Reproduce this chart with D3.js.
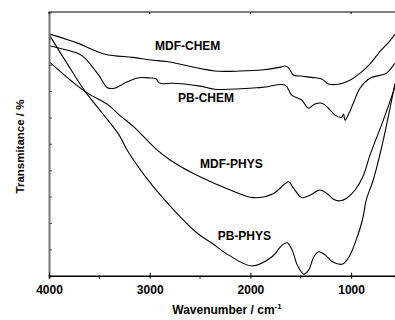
<!DOCTYPE html>
<html>
<head>
<meta charset="utf-8">
<script src="https://cdn.jsdelivr.net/npm/d3@7"></script>
<style>
  body { margin: 0; background: #fff; }
  text { font-family: "Liberation Sans", Arial, sans-serif; font-weight: bold; }
</style>
</head>
<body>
<div id="vis"></div>
<script>
const FRAME_WIDTH = 395;
const FRAME_HEIGHT = 320;
const MARGINS = {left: 49, right: 0, top: 12, bottom: 44.3};

// wavenumber (cm-1) and transmittance (%)
const MDF_CHEM_WN = [4000, 3824, 3709, 3444, 3166, 2990, 2831, 2500, 2352, 2100, 1888, 1700, 1656, 1620, 1574, 1500, 1391, 1292, 1226, 1127, 1028, 895, 812, 763, 700, 634, 564];
const MDF_CHEM_T  = [91.7, 89.6, 88.1, 84.0, 82.8, 81.8, 81.2, 78.6, 77.6, 77.6, 78.0, 79.1, 79.5, 78.8, 76.1, 75.7, 75.2, 74.6, 72.7, 72.6, 73.8, 77.3, 80.3, 82.6, 85.6, 88.2, 91.5];

const PB_CHEM_WN = [4000, 3824, 3700, 3640, 3500, 3420, 3350, 3250, 3120, 3000, 2935, 2910, 2870, 2780, 2500, 2352, 1888, 1656, 1590, 1490, 1425, 1360, 1290, 1225, 1160, 1095, 1075, 1060, 1028, 978, 912, 812, 700, 647, 564];
const PB_CHEM_T  = [87.2, 85.6, 84.1, 82.4, 75.7, 71.3, 71.1, 73.0, 75.0, 75.0, 74.6, 73.2, 72.8, 73.0, 71.9, 70.7, 71.4, 72.3, 68.5, 66.6, 63.5, 65.1, 65.4, 63.5, 60.9, 60.1, 61.3, 59.0, 61.0, 65.4, 71.1, 74.9, 76.1, 76.8, 80.6];

const MDF_PHYS_WN = [4000, 3640, 3410, 3300, 3160, 2947, 2798, 2500, 2200, 1970, 1770, 1670, 1620, 1570, 1490, 1405, 1310, 1240, 1175, 1110, 1045, 960, 880, 812, 680, 564];
const MDF_PHYS_T  = [81.2, 69.8, 64.7, 60.9, 56.5, 48.4, 43.9, 37.5, 32.5, 29.6, 31.2, 34.4, 35.6, 33.1, 29.6, 30.6, 32.5, 31.2, 29.0, 28.4, 29.4, 32.5, 37.8, 45.8, 59.0, 71.6];

const PB_PHYS_WN = [4000, 3824, 3640, 3470, 3305, 3225, 2990, 2760, 2530, 2380, 2215, 1985, 1785, 1685, 1635, 1585, 1535, 1470, 1420, 1370, 1320, 1255, 1185, 1085, 1020, 950, 885, 850, 780, 680, 564];
const PB_PHYS_T  = [91.5, 80.7, 69.8, 61.6, 53.4, 47.7, 35.0, 24.9, 16.2, 12.3, 7.8, 3.7, 7.2, 11.6, 12.5, 9.7, 4.1, 0.6, 2.2, 7.2, 9.1, 7.8, 5.3, 4.4, 7.2, 13.5, 21.5, 28.7, 36.3, 51.5, 73.0];

const SERIES_NAMES = ['MDF-CHEM', 'PB-CHEM', 'MDF-PHYS', 'PB-PHYS'];
const SERIES_WN = [MDF_CHEM_WN, PB_CHEM_WN, MDF_PHYS_WN, PB_PHYS_WN];
const SERIES_T = [MDF_CHEM_T, PB_CHEM_T, MDF_PHYS_T, PB_PHYS_T];

// where each curve name sits (wavenumber, transmittance)
const LABEL_WN = [2947, 2719, 2500, 2325];
const LABEL_T = [85.6, 66.0, 40.7, 13.5];

const X_MAJOR = [4000, 3000, 2000, 1000];
const X_MINOR = [3500, 2500, 1500, 500];
const Y_TICKS = d3.range(0, 101, 10);

const VIS_WIDTH = FRAME_WIDTH - MARGINS.left - MARGINS.right;
const VIS_HEIGHT = FRAME_HEIGHT - MARGINS.top - MARGINS.bottom;

const svg = d3.select('#vis')
  .append('svg')
    .attr('width', FRAME_WIDTH)
    .attr('height', FRAME_HEIGHT);

const X_SCALE = d3.scaleLinear()
  .domain([4000, 564])
  .range([MARGINS.left, MARGINS.left + VIS_WIDTH]);

const Y_SCALE = d3.scaleLinear()
  .domain([0, 100])
  .range([MARGINS.top + VIS_HEIGHT, MARGINS.top]);

// top frame line
svg.append('line')
  .attr('x1', X_SCALE(4000)).attr('x2', X_SCALE(564))
  .attr('y1', Y_SCALE(100)).attr('y2', Y_SCALE(100))
  .attr('stroke', '#000').attr('stroke-width', 1);

// curves
const line = d3.line()
  .x(d => X_SCALE(d[0]))
  .y(d => Y_SCALE(d[1]))
  .curve(d3.curveCatmullRom.alpha(0.5));

SERIES_WN.forEach((wn, i) => {
  const pts = wn.map((w, j) => [w, SERIES_T[i][j]]);
  svg.append('path')
    .datum(pts)
    .attr('d', line)
    .attr('fill', 'none')
    .attr('stroke', '#000')
    .attr('stroke-width', 1.1);
});

// curve names
svg.selectAll('.lbl')
  .data(SERIES_NAMES)
  .join('text')
    .attr('class', 'lbl')
    .attr('x', (d, i) => X_SCALE(LABEL_WN[i]))
    .attr('y', (d, i) => Y_SCALE(LABEL_T[i]))
    .attr('font-size', '12px')
    .text(d => d);

// left axis, ticks inside, no labels
const yAxis = svg.append('g')
  .attr('transform', 'translate(' + MARGINS.left + ',0)')
  .call(d3.axisLeft(Y_SCALE).tickValues(Y_TICKS).tickSize(-3).tickFormat(''));
yAxis.select('.domain').attr('stroke', '#777').attr('stroke-width', 2);
yAxis.selectAll('.tick line').attr('stroke', '#555');

// bottom axis: major ticks cross the line, minor ticks point out
const xBase = MARGINS.top + VIS_HEIGHT;
const xAxis = svg.append('g')
  .attr('transform', 'translate(0,' + xBase + ')')
  .call(d3.axisBottom(X_SCALE).tickValues(X_MAJOR).tickFormat(d3.format('d')).tickSize(3).tickPadding(7));
xAxis.select('.domain').attr('stroke-width', 1.5);
xAxis.selectAll('.tick line').attr('y1', -3);
xAxis.selectAll('.tick text')
  .attr('font-size', '12px')
  .attr('font-family', '"Liberation Sans", Arial, sans-serif')
  .attr('font-weight', 'bold')
  .attr('fill', '#000');

svg.append('g')
  .selectAll('line')
  .data(X_MINOR)
  .join('line')
    .attr('x1', d => X_SCALE(d)).attr('x2', d => X_SCALE(d))
    .attr('y1', xBase).attr('y2', xBase + 3)
    .attr('stroke', '#000');

// top ticks
svg.append('g')
  .selectAll('line')
  .data(X_MAJOR)
  .join('line')
    .attr('x1', d => X_SCALE(d)).attr('x2', d => X_SCALE(d))
    .attr('y1', MARGINS.top).attr('y2', MARGINS.top + 2)
    .attr('stroke', '#000');

// x axis title
const xt = svg.append('text')
  .attr('x', 227)
  .attr('y', 314)
  .attr('text-anchor', 'middle')
  .attr('font-size', '12px');
xt.append('tspan').text('Wavenumber / cm');
xt.append('tspan').attr('dy', -5).attr('font-size', '8px').text('-1');

// y axis title
svg.append('text')
  .attr('transform', 'translate(24,146.5) rotate(-90)')
  .attr('text-anchor', 'middle')
  .attr('font-size', '11.5px')
  .text('Transmitance / %');
</script>
</body>
</html>
